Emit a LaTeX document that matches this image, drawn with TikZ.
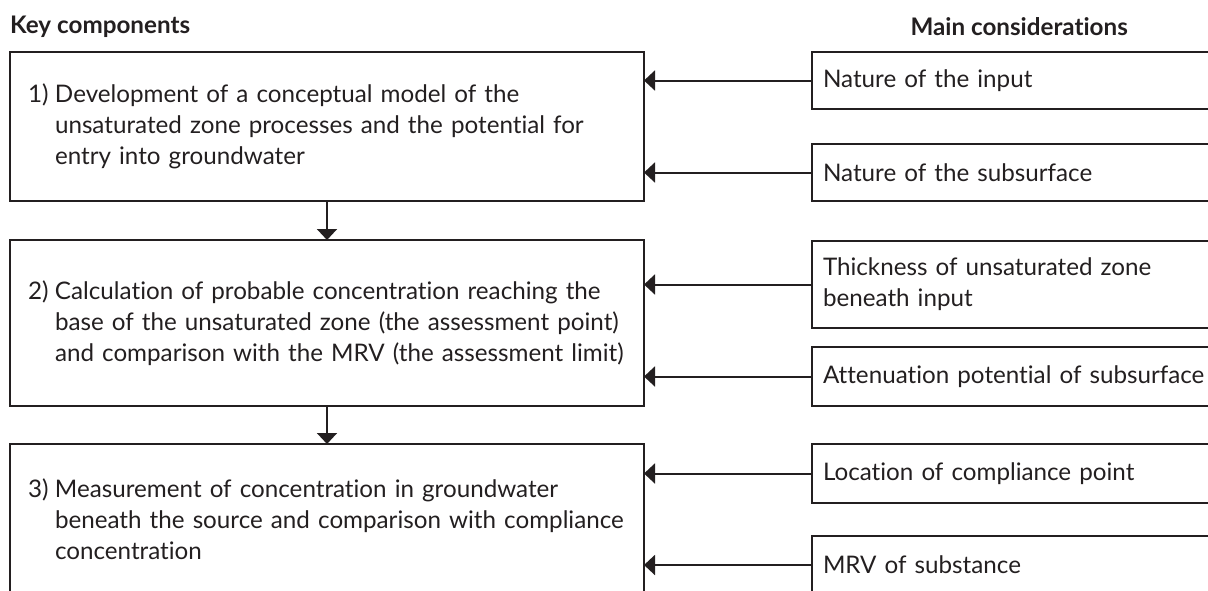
\documentclass[tikz,border=0pt]{standalone}
\usepackage{fontspec}
\setmainfont{Lato}[Ligatures={NoCommon}]
\usetikzlibrary{arrows.meta}
\definecolor{ink}{HTML}{231F20}
\hfuzz=200pt \hbadness=10000
\tikzset{
  every node/.style={text=ink},
  keybox/.style={draw=ink, line width=2pt, outer sep=0pt, inner xsep=18pt, inner ysep=0pt,
    anchor=north west, minimum width=634pt, text width=598pt, align=left,
    font=\fontsize{24.2}{31}\selectfont},
  consbox/.style={draw=ink, line width=2pt, outer sep=0pt, inner xsep=11pt, inner ysep=0pt,
    anchor=north west, minimum width=420pt, text width=398pt, align=left,
    font=\fontsize{24.2}{31}\selectfont},
  header/.style={anchor=west, inner sep=0pt, font=\fontsize{24.2}{28}\selectfont\bfseries},
  conn/.style={draw=ink, line width=2pt, -{Triangle[length=11pt, width=20pt]}},
}
\newcommand{\hang}[1]{\makebox[27pt][l]{#1}}
\newcommand{\ind}{\hspace*{27pt}}
\begin{document}
\begin{tikzpicture}[x=1pt, y=-1pt]
\useasboundingbox (0,0) rectangle (1208,590);
\node[header] (hk) at (10,27) {Key components};
\node[header, anchor=east] (hm) at (1128,27) {Main considerations};

\node[keybox, minimum height=149pt] (k1) at (10,52)
  {\mbox{\hang{1)}Development of a conceptual model of the}\\\mbox{\ind unsaturated zone processes and the potential for}\\\mbox{\ind entry into groundwater}};
\node[keybox, minimum height=166pt] (k2) at (10,240)
  {\mbox{\hang{2)}Calculation of probable concentration reaching the}\\\mbox{\ind base of the unsaturated zone (the assessment point)}\\\mbox{\ind and comparison with the MRV (the assessment limit)}};
\node[keybox, minimum height=150pt] (k3) at (10,444)
  {\mbox{\hang{3)}Measurement of concentration in groundwater}\\\mbox{\ind beneath the source and comparison with compliance}\\\mbox{\ind concentration}};

\node[consbox, minimum height=57pt] (c1) at (812,52) {Nature of the input};
\node[consbox, minimum height=57pt] (c2) at (812,144) {Nature of the subsurface};
\node[consbox, minimum height=87pt] (c3) at (812,241) {Thickness of unsaturated zone\\beneath input};
\node[consbox, minimum height=59pt] (c4) at (812,347) {\mbox{Attenuation potential of subsurface}};
\node[consbox, minimum height=59pt] (c5) at (812,444) {Location of compliance point};
\node[consbox, minimum height=58pt] (c6) at (812,536) {MRV of substance};

\draw[conn] (c1.west) -- (c1.west -| k1.east);
\draw[conn] (c2.west) -- (c2.west -| k1.east);
\draw[conn] (c3.west) -- (c3.west -| k2.east);
\draw[conn] (c4.west) -- (c4.west -| k2.east);
\draw[conn] (c5.west) -- (c5.west -| k3.east);
\draw[conn] (c6.west) -- (c6.west -| k3.east);
\draw[conn] (k1.south) -- (k2.north);
\draw[conn] (k2.south) -- (k3.north);
\end{tikzpicture}
\end{document}
